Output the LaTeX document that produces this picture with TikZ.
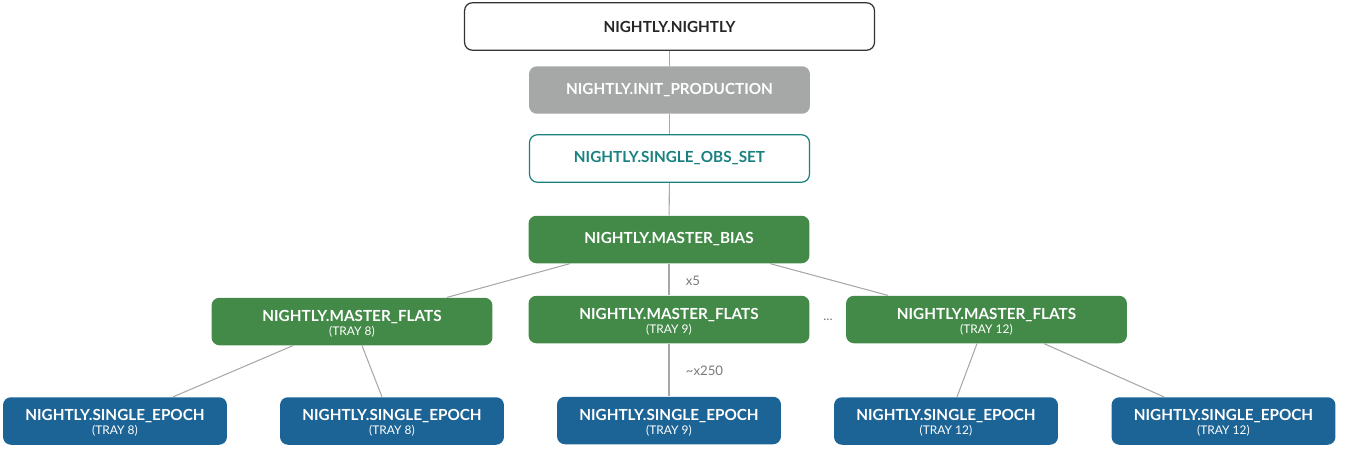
\documentclass[tikz,border=0pt]{standalone}
\usepackage{fontspec}
\setmainfont{Lato}
\usepackage{xcolor}
\usetikzlibrary{positioning}

\definecolor{initgray}{HTML}{A5A8A6}
\definecolor{obsteal}{HTML}{1A8181}
\definecolor{flatgreen}{HTML}{438A48}
\definecolor{epochblue}{HTML}{1C6396}
\definecolor{linkgray}{HTML}{A8A8A8}
\definecolor{labelgray}{HTML}{7A7A7A}

\tikzset{
  job/.style={rounded corners=4.5pt, align=center, inner sep=0pt,
    font=\fontsize{8.7}{9.5}\selectfont\bfseries, minimum height=0.95cm},
  topjob/.style={job, draw=black!80, line width=0.7pt, fill=white,
    text=black!85, minimum width=8.2cm},
  initjob/.style={job, fill=initgray, text=white, minimum width=5.62cm},
  obsjob/.style={job, draw=obsteal, line width=0.7pt, fill=white,
    text=obsteal, minimum width=5.6cm},
  flatjob/.style={job, fill=flatgreen, text=white, minimum width=5.62cm},
  epochjob/.style={job, fill=epochblue, text=white, minimum width=4.48cm},
  link/.style={draw=linkgray, line width=0.6pt},
  mult/.style={text=labelgray, font=\fontsize{7.5}{8}\selectfont}
}
% second line of a job box, the tray number
\newcommand{\tray}[1]{\rule{0pt}{8.6pt}\\[-1.5pt]{\fontsize{6.8}{7.5}\selectfont\mdseries (TRAY #1)}}

\begin{document}
\begin{tikzpicture}[x=0.02cm,y=-0.02cm]
    \useasboundingbox (0,0) rectangle (1349,450);

    \node[topjob] (nightly) at (669.5,26.5) {NIGHTLY.NIGHTLY};
    \node[initjob] (init) at (669.5,90) {NIGHTLY.INIT\_PRODUCTION};
    \node[obsjob] (obsset) at (669.5,158.5) {NIGHTLY.SINGLE\_OBS\_SET};
    \node[flatjob] (bias) at (669,239.5) {NIGHTLY.MASTER\_BIAS};

    \node[flatjob] (flat8) at (352,321.5) {NIGHTLY.MASTER\_FLATS\tray{8}};
    \node[flatjob] (flat9) at (669,319.5) {NIGHTLY.MASTER\_FLATS\tray{9}};
    \node[flatjob] (flat12) at (986.5,319.5) {NIGHTLY.MASTER\_FLATS\tray{12}};
    \node[text=labelgray, font=\fontsize{7.5}{8}\selectfont] (dots) at (828,320) {...};

    \node[epochjob] (ep8a) at (115,421) {NIGHTLY.SINGLE\_EPOCH\tray{8}};
    \node[epochjob] (ep8b) at (392,421) {NIGHTLY.SINGLE\_EPOCH\tray{8}};
    \node[epochjob] (ep9) at (669,420.5) {NIGHTLY.SINGLE\_EPOCH\tray{9}};
    \node[epochjob] (ep12a) at (946,421) {NIGHTLY.SINGLE\_EPOCH\tray{12}};
    \node[epochjob] (ep12b) at (1223.5,421) {NIGHTLY.SINGLE\_EPOCH\tray{12}};

    % chain at the top
    \draw[link] (nightly) -- (init);
    \draw[link] (init) -- (obsset);
    \draw[link] (obsset) -- (bias);

    % bias to the flats
    \draw[link] ([xshift=-1.98cm]bias.south) -- ([xshift=1.9cm]flat8.north);
    \draw[link] (bias) -- node[mult, right=6pt, pos=0.55] (x5) {x5} (flat9);
    \draw[link] ([xshift=2.02cm]bias.south) -- ([xshift=-1.97cm]flat12.north);

    % flats to the epochs
    \draw[link] ([xshift=-1.18cm]flat8.south) -- ([xshift=1.16cm]ep8a.north);
    \draw[link] ([xshift=0.2cm]flat8.south) -- ([xshift=-0.2cm]ep8b.north);
    \draw[link] (flat9) -- node[mult, right=6pt, pos=0.52] (x250) {\textasciitilde x250} (ep9);
    \draw[link] ([xshift=-0.19cm]flat12.south) -- ([xshift=0.22cm]ep12a.north);
    \draw[link] ([xshift=1.15cm]flat12.south) -- ([xshift=-1.19cm]ep12b.north);

\end{tikzpicture}
\end{document}
